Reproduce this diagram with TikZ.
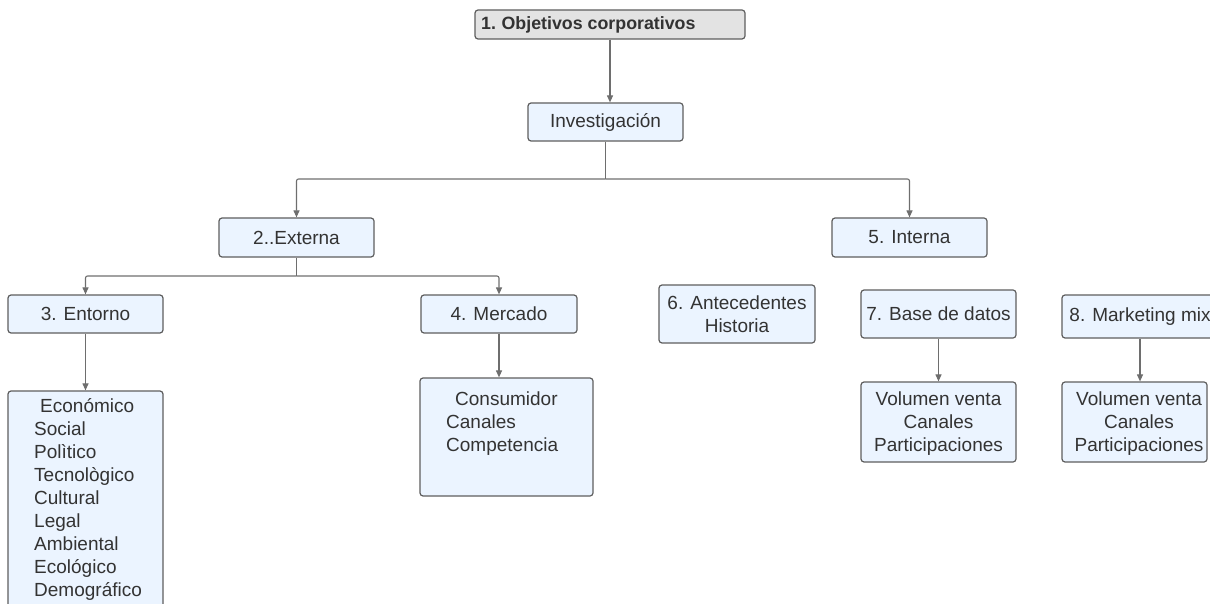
\documentclass[tikz,border=0pt]{standalone}
\usepackage{fontspec}
\setmainfont{Liberation Sans}
\usetikzlibrary{arrows.meta}
\definecolor{boxfill}{HTML}{EBF4FF}
\definecolor{titlefill}{HTML}{E3E3E3}
\definecolor{edge}{HTML}{5E5E5E}
\definecolor{conn}{HTML}{6E6E6E}
\definecolor{txt}{HTML}{333333}
\begin{document}
\begin{tikzpicture}[x=1pt,y=-1pt,
  box/.style={draw=edge, line width=1.2pt, rounded corners=3pt, fill=boxfill,
    inner sep=0pt, text=txt, align=center,
    font=\fontsize{19}{23}\selectfont},
  titlebox/.style={box, fill=titlefill},
  plain/.style={inner sep=0pt, text=txt, align=left,
    font=\fontsize{19}{23}\selectfont},
  link/.style={draw=conn, line width=1.1pt, rounded corners=2pt},
  arr/.style={link, -{Triangle[length=7pt,width=6pt]}}]
\useasboundingbox (0,0) rectangle (1210,604);
\clip (0,0) rectangle (1210,604);

% boxes
\node[titlebox, minimum width=270pt, minimum height=29pt] (b1) at (610,24.5) {};
\node[anchor=west, inner sep=0pt, text=txt, font=\fontsize{17.8}{20}\selectfont\bfseries] (t1) at (481,24.5) {1.\hspace{-1pt} Objetivos corporativos};
\node[box, minimum width=155pt, minimum height=38pt] (inv) at (605.5,122) {Investigación};
\node[box, minimum width=155pt, minimum height=39pt] (ext) at (296.5,237.5) {2..Externa};
\node[box, minimum width=155pt, minimum height=39pt] (int) at (909.5,237.5) {5. Interna};
\node[box, minimum width=155pt, minimum height=38pt] (ent) at (85.5,314) {3. Entorno};
\node[box, minimum width=156pt, minimum height=38pt] (mer) at (499,314) {4. Mercado};
\node[box, minimum width=156pt, minimum height=58pt] (ant) at (737,314) {6. Antecedentes\\Historia};
\node[box, minimum width=155pt, minimum height=48pt] (bd) at (938.5,314) {7. Base de datos};
\node[box, minimum width=156pt, minimum height=43pt] (mm) at (1140,316.5) {8. Marketing mix};
\node[box, minimum width=155pt, minimum height=249pt] (lst) at (85.5,515.5) {};
\node[plain, anchor=north west] (lsttxt) at (34,398) {\hspace*{6pt}Económico\\Social\\Polìtico\\Tecnològico\\Cultural\\Legal\\Ambiental\\Ecológico\\Demográfico};
\node[box, minimum width=173pt, minimum height=118pt] (cons) at (506.5,437) {};
\node[plain, anchor=north west] (constxt) at (446,392) {\hspace*{9pt}Consumidor\\Canales\\Competencia};
\node[box, minimum width=155pt, minimum height=80pt] (vol1) at (938.5,422) {};
\node[plain, align=center] (vol1txt) at (938.5,424) {Volumen venta\\Canales\\Participaciones};
\node[box, minimum width=145pt, minimum height=80pt] (vol2) at (1134.5,422) {};
\node[plain, align=center] (vol2txt) at (1139,424) {Volumen venta\\Canales\\Participaciones};

% connectors
\draw[arr] (b1.south) -- (b1.south |- inv.north);
\coordinate (j1) at (inv.south |- 0,179);
\draw[link] (inv.south) -- (j1);
\draw[arr] (j1) -| (ext.north);
\draw[arr] (j1) -| (int.north);
\coordinate (j2) at (ext.south |- 0,276);
\draw[link] (ext.south) -- (j2);
\draw[arr] (j2) -| (ent.north);
\draw[arr] (j2) -| (mer.north);
\draw[arr] (ent.south) -- (lst.north);
\draw[arr] (mer.south) -- (mer.south |- cons.north);
\draw[arr] (bd.south) -- (vol1.north);
\draw[arr] (mm.south) -- (mm.south |- vol2.north);
\end{tikzpicture}
\end{document}
